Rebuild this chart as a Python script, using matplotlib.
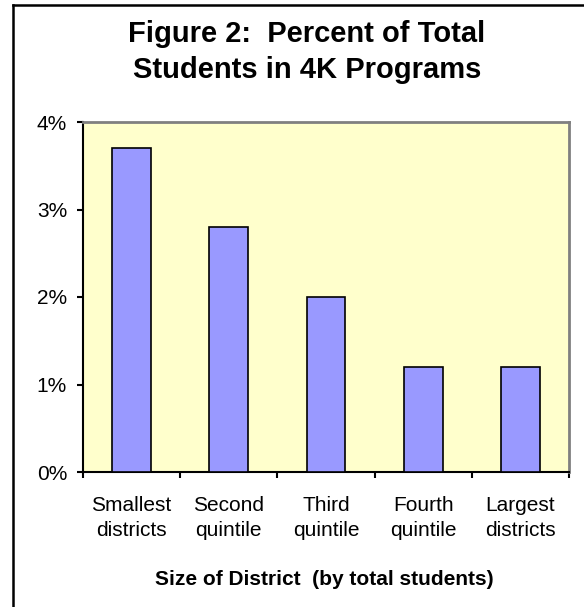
import matplotlib
matplotlib.use("Agg")
import matplotlib.pyplot as plt
from matplotlib.lines import Line2D
from matplotlib.ticker import FuncFormatter, FixedLocator, NullFormatter

plt.rcParams['font.family'] = ['Liberation Sans', 'DejaVu Sans']

categories = ["Smallest\ndistricts", "Second\nquintile", "Third\nquintile", "Fourth\nquintile", "Largest\ndistricts"]
values = [3.7, 2.8, 2.0, 1.2, 1.2]
yticks = [0, 1, 2, 3, 4]
title_lines = ["Figure 2:  Percent of Total", "Students in 4K Programs"]
xlabel = "Size of District  (by total students)"

W, H = 584, 607
fig = plt.figure(figsize=(W / 100, H / 100), dpi=100)
fig.patch.set_facecolor("white")

ax = fig.add_axes([83 / W, 1 - 472 / H, (569 - 83) / W, (472 - 122) / H])
ax.set_facecolor("#FFFFCC")

x = list(range(len(values)))
ax.bar(x, values, width=0.4, color="#9999FF", edgecolor="black", linewidth=1.2, zorder=3)

ax.set_xlim(-0.5, len(values) - 0.5)
ax.set_ylim(0, 4)
ax.set_yticks(yticks)
ax.yaxis.set_major_formatter(FuncFormatter(lambda v, p: f"{int(v)}%"))
ax.tick_params(axis="y", direction="out", length=4.5, width=1.5, labelsize=15, pad=7, colors="black")

# category boundary ticks
ax.xaxis.set_major_locator(FixedLocator([i - 0.5 for i in range(len(values) + 1)]))
ax.xaxis.set_major_formatter(NullFormatter())
ax.xaxis.set_minor_locator(FixedLocator(x))
ax.set_xticklabels(categories, minor=True)
ax.tick_params(axis="x", which="major", direction="out", length=4.5, width=1.5)
ax.tick_params(axis="x", which="minor", length=0, labelsize=15, pad=17)
for lbl in ax.get_xticklabels(minor=True):
    lbl.set_linespacing(1.45)
    lbl.set_horizontalalignment("center")

for s in ["left", "bottom"]:
    ax.spines[s].set_color("black")
    ax.spines[s].set_linewidth(1.5)
for s in ["top", "right"]:
    ax.spines[s].set_color("#808080")
    ax.spines[s].set_linewidth(2)

ax.set_xlabel(xlabel, fontsize=15, fontweight="bold", va="baseline")
ax.xaxis.set_label_coords(0.497, (472 - 585) / 350)

# title lines
title_x = 307 / W
fig.text(title_x, 1 - 41.5 / H, title_lines[0], ha="center", va="baseline", fontsize=21, fontweight="bold")
fig.text(title_x, 1 - 78.5 / H, title_lines[1], ha="center", va="baseline", fontsize=21, fontweight="bold")

# outer border (clipped at right/bottom)
fig.add_artist(Line2D([12.5 / W, 12.5 / W], [1 - 4.5 / H, 0], transform=fig.transFigure, color="black", linewidth=1.8))
fig.add_artist(Line2D([12.5 / W, 1], [1 - 4.5 / H, 1 - 4.5 / H], transform=fig.transFigure, color="black", linewidth=1.8))

fig.savefig("out.png", dpi=100)
